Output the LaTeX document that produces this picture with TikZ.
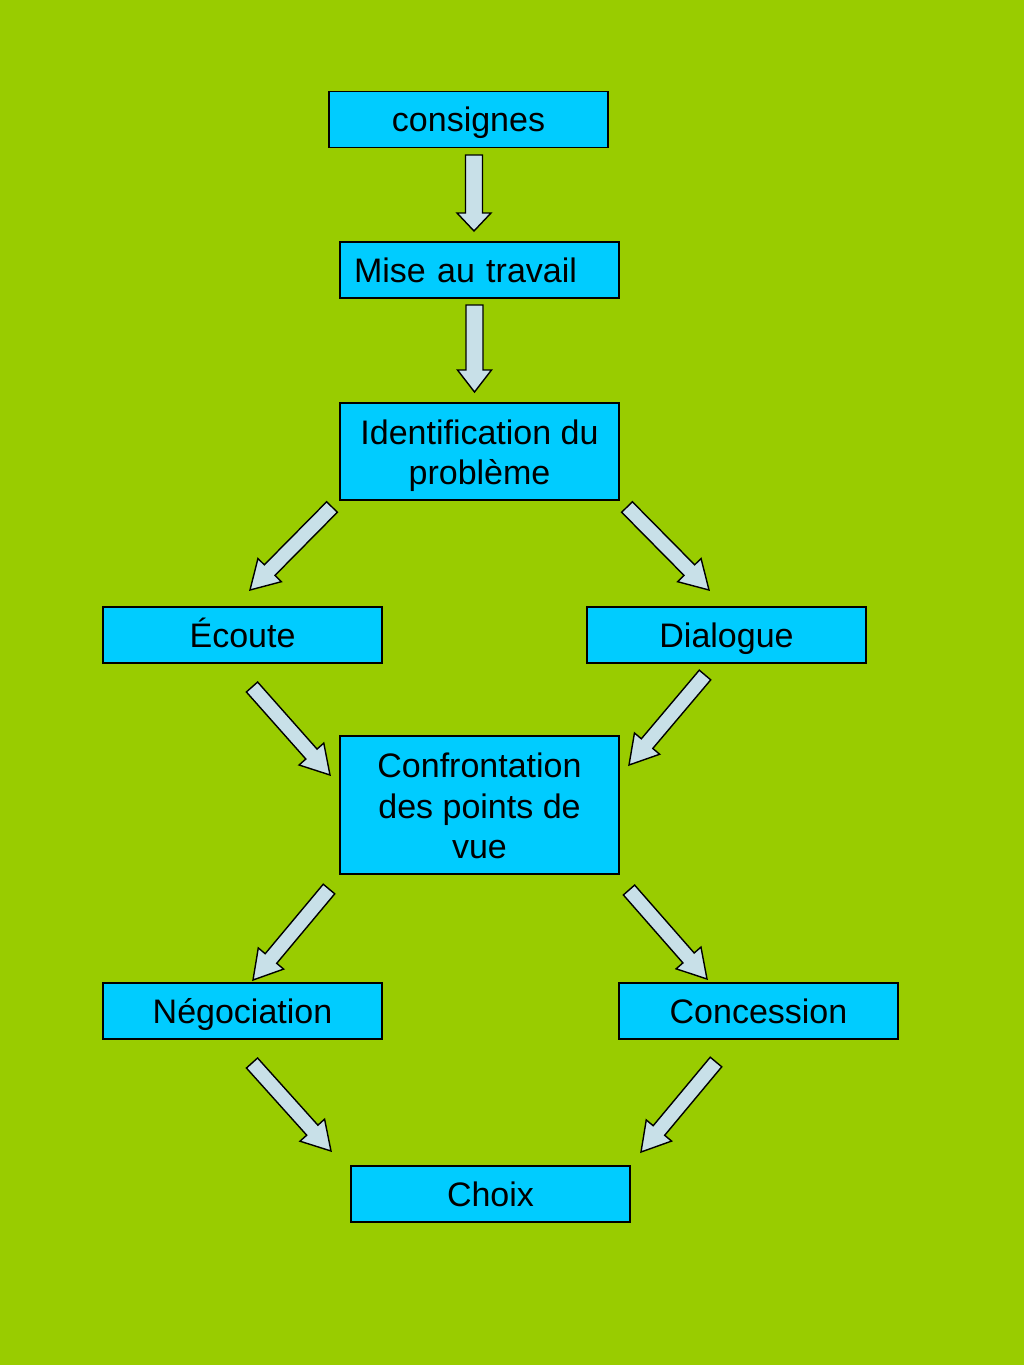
\documentclass[tikz,border=0pt]{standalone}
\usepackage{fontspec}
\setmainfont{Liberation Sans}
\usetikzlibrary{calc}
\definecolor{bggreen}{RGB}{153,204,0}
\definecolor{boxcyan}{RGB}{0,204,255}
\definecolor{arrfill}{RGB}{200,224,232}
\newcommand{\blockarr}[5]{%
  \coordinate (ba-h) at ($(#2)!#5!(#1)$);
  \draw[arrstyle] ($(#1)!#3!90:(#2)$) -- ($(ba-h)!#3!90:(#2)$) -- ($(ba-h)!#4!90:(#2)$) -- (#2) -- ($(ba-h)!#4!-90:(#2)$) -- ($(ba-h)!#3!-90:(#2)$) -- ($(#1)!#3!-90:(#2)$) -- cycle;}
\begin{document}
\begin{tikzpicture}[x=1pt,y=-1pt,
  box/.style={draw=black, line width=1.8pt, fill=boxcyan, rectangle, minimum width=279pt, minimum height=56pt, inner sep=0pt, font=\fontsize{34}{40.5}\selectfont, text=black, align=center},
  oneline/.style={text height=31pt, text depth=7pt},
  txt/.style={inner sep=0pt, font=\fontsize{34}{40.5}\selectfont, text=black, align=center},
  arrstyle/.style={draw=black, line width=1.4pt, fill=arrfill, line join=miter}]
\fill[bggreen] (0,0) rectangle (1024,1365);
\useasboundingbox (0,0) rectangle (1024,1365);

\node[box, oneline] (cons) at (468.5,119.5) {consignes};
\node[box, oneline, text width=251pt, align=left, inner xsep=14pt] (mise) at (479.5,270) {Mise au travail};
\node[box, minimum height=97pt] (ident) at (479.5,451.5) {};
\node[txt] (identt) at (479.5,455.5) {Identification du\\probl\`eme};
\node[box, oneline] (ecoute) at (242.5,635) {\'Ecoute};
\node[box, oneline] (dial) at (726.5,635) {Dialogue};
\node[box, minimum height=138pt] (conf) at (479.5,805) {};
\node[txt] (conft) at (479.5,806) {Confrontation\\des points de\\vue};
\node[box, oneline] (nego) at (242.5,1011) {N\'egociation};
\node[box, oneline] (conc) at (758.5,1011) {Concession};
\node[box, oneline] (choix) at (490.5,1194) {Choix};

% arrow end coordinates
\coordinate (a1s) at (474,155);  \coordinate (a1e) at (474,231);
\coordinate (a2s) at (474.5,305);  \coordinate (a2e) at (474.5,392);
\coordinate (a3s) at (332,507);  \coordinate (a3e) at (250,590);
\coordinate (a4s) at (627,507);  \coordinate (a4e) at (709,590);
\coordinate (a5s) at (252,687);  \coordinate (a5e) at (330,775);
\coordinate (a6s) at (705,675);  \coordinate (a6e) at (629,765);
\coordinate (a7s) at (329,889);  \coordinate (a7e) at (253,980);
\coordinate (a8s) at (629,890);  \coordinate (a8e) at (707,979);
\coordinate (a9s) at (252,1063); \coordinate (a9e) at (331,1151);
\coordinate (a10s) at (716,1062); \coordinate (a10e) at (641,1152);

\blockarr{a1s}{a1e}{8.5pt}{17pt}{18pt}
\blockarr{a2s}{a2e}{8.5pt}{17pt}{22pt}
\blockarr{a3s}{a3e}{7.5pt}{16.5pt}{28pt}
\blockarr{a4s}{a4e}{7.5pt}{16.5pt}{28pt}
\blockarr{a5s}{a5e}{7.5pt}{16.5pt}{28pt}
\blockarr{a6s}{a6e}{7.5pt}{16.5pt}{28pt}
\blockarr{a7s}{a7e}{7.5pt}{16.5pt}{28pt}
\blockarr{a8s}{a8e}{7.5pt}{16.5pt}{28pt}
\blockarr{a9s}{a9e}{7.5pt}{16.5pt}{28pt}
\blockarr{a10s}{a10e}{7.5pt}{16.5pt}{28pt}
\end{tikzpicture}
\end{document}
